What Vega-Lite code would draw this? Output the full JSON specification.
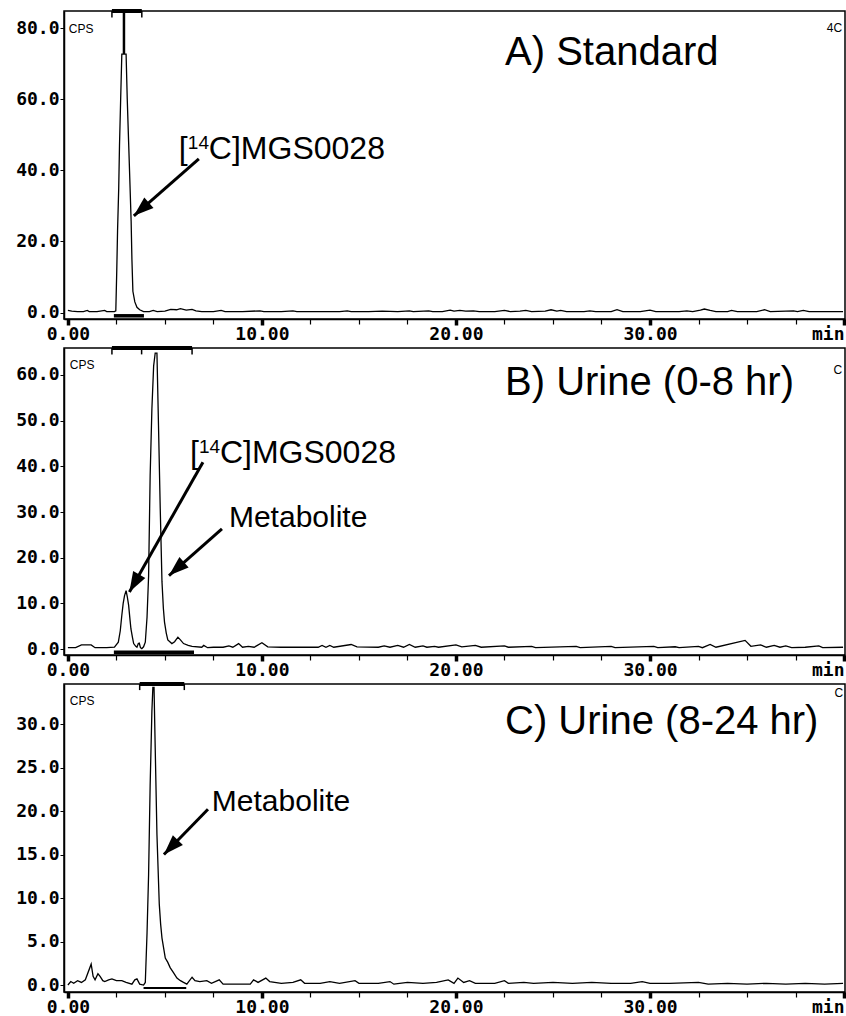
{
  "$schema": "https://vega.github.io/schema/vega-lite/v6.json",
  "background": "white",
  "padding": {"left": 14, "top": 8, "right": 2, "bottom": 2},
  "bounds": "flush",
  "spacing": 29,
  "config": {
    "view": {"stroke": "black", "strokeWidth": 1.5},
    "axis": {"domainColor": "black", "domainWidth": 1.5, "tickColor": "black", "labelColor": "black", "labelFont": "DejaVu Sans Mono", "labelFontSize": 18, "labelFontWeight": "bold", "grid": false, "title": null},
    "text": {"color": "black", "font": "Liberation Sans"}
  },
  "datasets": {
    "traceA": [
      {"t":0.0,"cps":0.6},{"t":0.2,"cps":0.4},{"t":0.5,"cps":0.3},{"t":0.8,"cps":0.3},{"t":1.0,"cps":0.6},{"t":1.1,"cps":0.3},{"t":1.5,"cps":0.3},{"t":1.9,"cps":0.6},{"t":2.0,"cps":0.3},{"t":2.4,"cps":0.3},
      {"t":2.47,"cps":0.5},{"t":2.52,"cps":12},{"t":2.56,"cps":23},{"t":2.62,"cps":35},{"t":2.66,"cps":47},{"t":2.72,"cps":60},{"t":2.78,"cps":72.7},{"t":3.0,"cps":72.7},{"t":3.06,"cps":60},{"t":3.13,"cps":48},
      {"t":3.2,"cps":36},{"t":3.26,"cps":25.7},{"t":3.3,"cps":15},{"t":3.35,"cps":6},{"t":3.45,"cps":3},{"t":3.56,"cps":1.5},{"t":3.7,"cps":0.8},{"t":3.9,"cps":0.3},{"t":4.2,"cps":0.3},{"t":4.4,"cps":0.6},
      {"t":4.6,"cps":0.3},{"t":5.0,"cps":0.4},{"t":5.3,"cps":0.9},{"t":5.6,"cps":0.8},{"t":5.8,"cps":1.1},{"t":6.1,"cps":0.7},{"t":6.4,"cps":0.9},{"t":6.6,"cps":0.5},{"t":6.9,"cps":0.3},{"t":7.5,"cps":0.3},
      {"t":7.9,"cps":0.6},{"t":8.1,"cps":0.3},{"t":9.0,"cps":0.3},{"t":9.9,"cps":0.5},{"t":10.1,"cps":0.3},{"t":11.0,"cps":0.3},{"t":11.6,"cps":0.5},{"t":11.8,"cps":0.3},{"t":12.6,"cps":0.3},{"t":13.4,"cps":0.3},
      {"t":14.0,"cps":0.3},{"t":14.4,"cps":0.5},{"t":14.6,"cps":0.3},{"t":15.5,"cps":0.3},{"t":16.2,"cps":0.4},{"t":17.0,"cps":0.3},{"t":17.6,"cps":0.5},{"t":17.8,"cps":0.3},{"t":18.6,"cps":0.5},{"t":18.8,"cps":0.3},
      {"t":19.3,"cps":0.3},{"t":19.7,"cps":0.7},{"t":19.9,"cps":0.4},{"t":20.2,"cps":0.6},{"t":20.5,"cps":0.4},{"t":20.9,"cps":0.5},{"t":21.2,"cps":0.3},{"t":22.0,"cps":0.3},{"t":22.5,"cps":0.6},{"t":22.8,"cps":0.3},
      {"t":23.3,"cps":0.4},{"t":23.6,"cps":0.6},{"t":23.9,"cps":0.3},{"t":24.6,"cps":0.4},{"t":24.9,"cps":0.8},{"t":25.2,"cps":0.4},{"t":25.4,"cps":0.6},{"t":25.7,"cps":0.3},{"t":26.6,"cps":0.3},{"t":26.9,"cps":0.5},
      {"t":27.2,"cps":0.3},{"t":28.0,"cps":0.3},{"t":28.3,"cps":0.8},{"t":28.6,"cps":0.3},{"t":29.5,"cps":0.3},{"t":30.0,"cps":0.7},{"t":30.3,"cps":0.3},{"t":31.5,"cps":0.3},{"t":31.9,"cps":0.5},{"t":32.2,"cps":0.3},
      {"t":32.6,"cps":0.7},{"t":32.8,"cps":1.0},{"t":33.1,"cps":0.6},{"t":33.4,"cps":0.3},{"t":34.0,"cps":0.3},{"t":34.2,"cps":0.6},{"t":34.5,"cps":0.3},{"t":35.5,"cps":0.3},{"t":35.9,"cps":0.8},{"t":36.2,"cps":0.3},
      {"t":37.4,"cps":0.5},{"t":37.6,"cps":0.3},{"t":37.9,"cps":0.6},{"t":38.2,"cps":0.3},{"t":39.5,"cps":0.3},{"t":39.95,"cps":0.3}
    ],
    "traceB": [
      {"t":0.0,"cps":0.3},{"t":0.4,"cps":0.3},{"t":0.7,"cps":0.9},{"t":1.2,"cps":0.9},{"t":1.4,"cps":0.3},{"t":2.0,"cps":0.3},{"t":2.4,"cps":0.4},{"t":2.6,"cps":1.5},{"t":2.7,"cps":4},{"t":2.78,"cps":7.4},
      {"t":2.85,"cps":10},{"t":2.92,"cps":11.7},{"t":3.0,"cps":12.8},{"t":3.06,"cps":11.5},{"t":3.13,"cps":9.6},{"t":3.2,"cps":6.5},{"t":3.25,"cps":4.4},{"t":3.33,"cps":2.5},{"t":3.39,"cps":1.2},{"t":3.5,"cps":0.6},
      {"t":3.56,"cps":0.4},{"t":3.63,"cps":1.2},{"t":3.68,"cps":1.3},{"t":3.74,"cps":0.3},{"t":3.81,"cps":0.1},{"t":3.9,"cps":0.5},{"t":3.99,"cps":1.5},{"t":4.08,"cps":7},{"t":4.16,"cps":16},{"t":4.24,"cps":38},
      {"t":4.33,"cps":52.6},{"t":4.42,"cps":62},{"t":4.5,"cps":64.8},{"t":4.59,"cps":64.8},{"t":4.67,"cps":49},{"t":4.76,"cps":30.7},{"t":4.85,"cps":14.7},{"t":4.92,"cps":9},{"t":4.98,"cps":5.9},{"t":5.07,"cps":3.5},
      {"t":5.15,"cps":2.0},{"t":5.36,"cps":1.2},{"t":5.5,"cps":1.6},{"t":5.67,"cps":2.6},{"t":5.8,"cps":2.0},{"t":5.96,"cps":1.2},{"t":6.2,"cps":0.8},{"t":6.4,"cps":0.6},{"t":6.9,"cps":0.4},{"t":7.0,"cps":0.8},
      {"t":7.2,"cps":0.3},{"t":7.5,"cps":0.4},{"t":8.0,"cps":0.4},{"t":8.3,"cps":0.7},{"t":8.5,"cps":0.4},{"t":8.8,"cps":1.2},{"t":9.0,"cps":0.4},{"t":9.3,"cps":0.6},{"t":9.6,"cps":0.4},{"t":10.0,"cps":1.4},
      {"t":10.3,"cps":0.5},{"t":11.0,"cps":0.4},{"t":12.9,"cps":0.4},{"t":13.1,"cps":0.8},{"t":13.3,"cps":0.4},{"t":13.5,"cps":0.8},{"t":13.7,"cps":0.4},{"t":14.6,"cps":1.0},{"t":14.9,"cps":0.5},{"t":16.0,"cps":0.4},
      {"t":16.3,"cps":0.7},{"t":16.6,"cps":0.4},{"t":17.0,"cps":0.8},{"t":17.3,"cps":0.4},{"t":17.6,"cps":1.0},{"t":17.9,"cps":0.4},{"t":18.3,"cps":0.7},{"t":18.5,"cps":0.4},{"t":18.9,"cps":0.6},{"t":19.1,"cps":0.4},
      {"t":20.0,"cps":0.9},{"t":20.3,"cps":0.5},{"t":21.0,"cps":0.8},{"t":21.3,"cps":0.4},{"t":22.5,"cps":0.7},{"t":22.7,"cps":0.4},{"t":23.9,"cps":0.6},{"t":24.1,"cps":0.3},{"t":26.2,"cps":0.6},{"t":26.4,"cps":0.3},
      {"t":28.0,"cps":0.6},{"t":28.2,"cps":0.3},{"t":30.2,"cps":0.6},{"t":30.4,"cps":0.3},{"t":31.3,"cps":0.5},{"t":31.5,"cps":0.3},{"t":32.5,"cps":0.6},{"t":32.7,"cps":0.3},{"t":33.1,"cps":1.0},{"t":33.4,"cps":0.4},
      {"t":34.9,"cps":1.9},{"t":35.2,"cps":0.6},{"t":35.7,"cps":0.9},{"t":36.0,"cps":0.4},{"t":36.4,"cps":0.8},{"t":36.7,"cps":0.4},{"t":37.0,"cps":0.7},{"t":37.3,"cps":0.3},{"t":38.0,"cps":0.4},{"t":38.7,"cps":0.7},
      {"t":38.9,"cps":0.3},{"t":39.95,"cps":0.4}
    ],
    "traceC": [
      {"t":0.0,"cps":0.0},{"t":0.15,"cps":0.4},{"t":0.3,"cps":0.2},{"t":0.5,"cps":0.5},{"t":0.7,"cps":0.3},{"t":0.9,"cps":0.6},{"t":1.2,"cps":2.4},{"t":1.3,"cps":1.0},{"t":1.4,"cps":0.6},{"t":1.55,"cps":1.3},
      {"t":1.66,"cps":1.0},{"t":1.8,"cps":0.5},{"t":1.9,"cps":0.4},{"t":2.1,"cps":0.6},{"t":2.27,"cps":0.7},{"t":2.5,"cps":0.5},{"t":2.78,"cps":0.5},{"t":3.0,"cps":0.3},{"t":3.3,"cps":0.1},{"t":3.45,"cps":0.6},
      {"t":3.56,"cps":0.7},{"t":3.7,"cps":0.1},{"t":3.9,"cps":0.0},{"t":3.99,"cps":0.3},{"t":4.08,"cps":6},{"t":4.16,"cps":12.7},{"t":4.24,"cps":23},{"t":4.33,"cps":31.5},{"t":4.38,"cps":34.2},{"t":4.44,"cps":34.2},
      {"t":4.5,"cps":27.3},{"t":4.59,"cps":17.3},{"t":4.71,"cps":9.3},{"t":4.78,"cps":7},{"t":4.85,"cps":5.4},{"t":5.02,"cps":3.1},{"t":5.15,"cps":2.6},{"t":5.27,"cps":2.0},{"t":5.45,"cps":1.4},{"t":5.62,"cps":0.8},
      {"t":5.8,"cps":0.5},{"t":5.96,"cps":0.3},{"t":6.13,"cps":0.1},{"t":6.4,"cps":0.9},{"t":6.55,"cps":0.5},{"t":6.8,"cps":0.4},{"t":7.16,"cps":0.5},{"t":7.4,"cps":0.2},{"t":7.8,"cps":0.6},{"t":8.0,"cps":0.1},
      {"t":9.4,"cps":0.1},{"t":9.57,"cps":0.6},{"t":9.8,"cps":0.3},{"t":10.2,"cps":0.8},{"t":10.4,"cps":0.4},{"t":11.0,"cps":0.2},{"t":11.6,"cps":0.3},{"t":12.0,"cps":0.6},{"t":12.2,"cps":0.2},{"t":13.0,"cps":0.2},
      {"t":13.5,"cps":0.4},{"t":14.0,"cps":0.2},{"t":14.8,"cps":0.5},{"t":15.0,"cps":0.2},{"t":16.0,"cps":0.2},{"t":16.6,"cps":0.4},{"t":16.8,"cps":0.1},{"t":17.5,"cps":0.3},{"t":18.3,"cps":0.2},{"t":19.0,"cps":0.3},
      {"t":19.6,"cps":0.6},{"t":19.9,"cps":0.2},{"t":20.1,"cps":0.8},{"t":20.4,"cps":0.3},{"t":20.7,"cps":0.5},{"t":21.0,"cps":0.2},{"t":22.0,"cps":0.2},{"t":22.5,"cps":0.5},{"t":22.7,"cps":0.2},{"t":23.5,"cps":0.3},
      {"t":24.0,"cps":0.2},{"t":25.0,"cps":0.3},{"t":26.0,"cps":0.2},{"t":27.0,"cps":0.3},{"t":28.0,"cps":0.2},{"t":29.0,"cps":0.2},{"t":29.6,"cps":0.4},{"t":30.0,"cps":0.2},{"t":31.0,"cps":0.2},{"t":32.5,"cps":0.3},
      {"t":33.0,"cps":0.1},{"t":34.0,"cps":0.2},{"t":35.0,"cps":0.1},{"t":36.0,"cps":0.2},{"t":37.0,"cps":0.1},{"t":38.0,"cps":0.2},{"t":39.0,"cps":0.1},{"t":39.95,"cps":0.2}
    ]
  },
  "vconcat": [
    {
      "width": 781, "height": 308,
      "layer": [
        {"data": {"name": "traceA"}, "mark": {"type": "line", "color": "black", "strokeWidth": 1.3, "clip": true},
          "encoding": {
            "x": {"field": "t", "type": "quantitative", "scale": {"domain": [-0.2, 40.05], "nice": false, "zero": false},
              "axis": {"values": [0,2.5,5,7.5,10,12.5,15,17.5,20,22.5,25,27.5,30,32.5,35,37.5,40],
                "labelExpr": "datum.value % 10 === 0 ? (datum.value === 40 ? 'min' : format(datum.value, '.2f')) : ''",
                "labelAlign": {"condition": {"test": "datum.value === 40", "value": "right"}, "value": "center"},
                "tickSize": {"condition": {"test": "datum.value % 10 === 0", "value": 6}, "value": 5},
                "tickWidth": {"condition": {"test": "datum.value % 10 === 0", "value": 3.5}, "value": 1.2},
                "labelOverlap": false, "labelFlush": false, "labelPadding": 0, "labelBaseline": "top"}},
            "y": {"field": "cps", "type": "quantitative", "scale": {"domain": [-1.8, 84.8], "nice": false, "zero": false},
              "axis": {"values": [0, 20, 40, 60, 80], "format": ".1f", "tickSize": 4, "labelPadding": 1}}
          }},
        {"data": {"values": [{"start": 2.27, "end": 3.81}]}, "mark": {"type": "rule", "color": "black", "strokeWidth": 4},
          "encoding": {"x": {"field": "start", "type": "quantitative"}, "x2": {"field": "end"}, "y": {"datum": 84.8, "type": "quantitative"}}},
        {"data": {"values": [{"at": 2.27}, {"at": 3.81}]}, "mark": {"type": "rule", "color": "black", "strokeWidth": 1.5},
          "encoding": {"x": {"field": "at", "type": "quantitative"}, "y": {"datum": 84.8, "type": "quantitative"}, "y2": {"datum": 83.0}}},
        {"data": {"values": [{"t": 2.89, "cps": 72.7}]}, "mark": {"type": "rule", "color": "black", "strokeWidth": 2.5},
          "encoding": {"x": {"field": "t", "type": "quantitative"}, "y": {"field": "cps", "type": "quantitative"}, "y2": {"datum": 84.8}}},
        {"data": {"values": [{"start": 2.37, "end": 3.92}]}, "mark": {"type": "rule", "color": "black", "strokeWidth": 3.5},
          "encoding": {"x": {"field": "start", "type": "quantitative"}, "x2": {"field": "end"}, "y": {"datum": -0.9, "type": "quantitative"}}},
        {"data": {"values": [{"t": 22.53, "cps": 69.6, "label": "A) Standard"}]}, "mark": {"type": "text", "fontSize": 40, "align": "left", "baseline": "alphabetic"},
          "encoding": {"x": {"field": "t", "type": "quantitative"}, "y": {"field": "cps", "type": "quantitative"}, "text": {"field": "label"}}},
        {"data": {"values": [{"t": 5.72, "cps": 43.2, "label": "["}]}, "mark": {"type": "text", "fontSize": 32, "align": "left", "baseline": "alphabetic"},
          "encoding": {"x": {"field": "t", "type": "quantitative"}, "y": {"field": "cps", "type": "quantitative"}, "text": {"field": "label"}}},
        {"data": {"values": [{"t": 5.72, "cps": 43.2, "label": "14"}]}, "mark": {"type": "text", "fontSize": 19, "align": "left", "baseline": "alphabetic", "dx": 9, "dy": -10},
          "encoding": {"x": {"field": "t", "type": "quantitative"}, "y": {"field": "cps", "type": "quantitative"}, "text": {"field": "label"}}},
        {"data": {"values": [{"t": 5.72, "cps": 43.2, "label": "C]MGS0028"}]}, "mark": {"type": "text", "fontSize": 32, "align": "left", "baseline": "alphabetic", "dx": 30},
          "encoding": {"x": {"field": "t", "type": "quantitative"}, "y": {"field": "cps", "type": "quantitative"}, "text": {"field": "label"}}},
        {"data": {"values": [{"t": 0.05, "cps": 81.1, "label": "CPS"}]}, "mark": {"type": "text", "fontSize": 12, "align": "left", "baseline": "top"},
          "encoding": {"x": {"field": "t", "type": "quantitative"}, "y": {"field": "cps", "type": "quantitative"}, "text": {"field": "label"}}},
        {"data": {"values": [{"t": 39.9, "cps": 81.4, "label": "4C"}]}, "mark": {"type": "text", "fontSize": 12, "align": "right", "baseline": "top"},
          "encoding": {"x": {"field": "t", "type": "quantitative"}, "y": {"field": "cps", "type": "quantitative"}, "text": {"field": "label"}}},
        {"data": {"values": [{"t": 6.75, "cps": 43.2, "t2": 3.4, "cps2": 27.2}]}, "mark": {"type": "rule", "color": "black", "strokeWidth": 3},
          "encoding": {"x": {"field": "t", "type": "quantitative"}, "y": {"field": "cps", "type": "quantitative"}, "x2": {"field": "t2"}, "y2": {"field": "cps2"}}},
        {"data": {"values": [{"t2": 3.4, "cps2": 27.2}]}, "mark": {"type": "point", "shape": "M0,0L-0.35,1L0.35,1Z", "size": 1600, "angle": 228.8, "filled": true, "color": "black", "opacity": 1, "strokeWidth": 0},
          "encoding": {"x": {"field": "t2", "type": "quantitative"}, "y": {"field": "cps2", "type": "quantitative"}}}
      ]
    },
    {
      "width": 781, "height": 307,
      "layer": [
        {"data": {"name": "traceB"}, "mark": {"type": "line", "color": "black", "strokeWidth": 1.3, "clip": true},
          "encoding": {
            "x": {"field": "t", "type": "quantitative", "scale": {"domain": [-0.2, 40.05], "nice": false, "zero": false},
              "axis": {"values": [0,2.5,5,7.5,10,12.5,15,17.5,20,22.5,25,27.5,30,32.5,35,37.5,40],
                "labelExpr": "datum.value % 10 === 0 ? (datum.value === 40 ? 'min' : format(datum.value, '.2f')) : ''",
                "labelAlign": {"condition": {"test": "datum.value === 40", "value": "right"}, "value": "center"},
                "tickSize": {"condition": {"test": "datum.value % 10 === 0", "value": 6}, "value": 5},
                "tickWidth": {"condition": {"test": "datum.value % 10 === 0", "value": 3.5}, "value": 1.2},
                "labelOverlap": false, "labelFlush": false, "labelPadding": 0, "labelBaseline": "top"}},
            "y": {"field": "cps", "type": "quantitative", "scale": {"domain": [-1.3, 65.9], "nice": false, "zero": false},
              "axis": {"values": [0, 10, 20, 30, 40, 50, 60], "format": ".1f", "tickSize": 4, "labelPadding": 1}}
          }},
        {"data": {"values": [{"start": 2.27, "end": 6.4}]}, "mark": {"type": "rule", "color": "black", "strokeWidth": 4},
          "encoding": {"x": {"field": "start", "type": "quantitative"}, "x2": {"field": "end"}, "y": {"datum": 65.9, "type": "quantitative"}}},
        {"data": {"values": [{"at": 2.27}, {"at": 3.8}, {"at": 6.4}]}, "mark": {"type": "rule", "color": "black", "strokeWidth": 1.5},
          "encoding": {"x": {"field": "at", "type": "quantitative"}, "y": {"datum": 65.9, "type": "quantitative"}, "y2": {"datum": 64.5}}},
        {"data": {"values": [{"start": 2.37, "end": 6.5}]}, "mark": {"type": "rule", "color": "black", "strokeWidth": 3.5},
          "encoding": {"x": {"field": "start", "type": "quantitative"}, "x2": {"field": "end"}, "y": {"datum": -0.7, "type": "quantitative"}}},
        {"data": {"values": [{"t": 22.53, "cps": 55.6, "label": "B) Urine (0-8 hr)"}]}, "mark": {"type": "text", "fontSize": 40, "align": "left", "baseline": "alphabetic"},
          "encoding": {"x": {"field": "t", "type": "quantitative"}, "y": {"field": "cps", "type": "quantitative"}, "text": {"field": "label"}}},
        {"data": {"values": [{"t": 6.29, "cps": 40.7, "label": "["}]}, "mark": {"type": "text", "fontSize": 32, "align": "left", "baseline": "alphabetic"},
          "encoding": {"x": {"field": "t", "type": "quantitative"}, "y": {"field": "cps", "type": "quantitative"}, "text": {"field": "label"}}},
        {"data": {"values": [{"t": 8.3, "cps": 26.7, "label": "Metabolite"}]}, "mark": {"type": "text", "fontSize": 30, "align": "left", "baseline": "alphabetic"},
          "encoding": {"x": {"field": "t", "type": "quantitative"}, "y": {"field": "cps", "type": "quantitative"}, "text": {"field": "label"}}},
        {"data": {"values": [{"t": 6.29, "cps": 40.7, "label": "14"}]}, "mark": {"type": "text", "fontSize": 19, "align": "left", "baseline": "alphabetic", "dx": 9, "dy": -10},
          "encoding": {"x": {"field": "t", "type": "quantitative"}, "y": {"field": "cps", "type": "quantitative"}, "text": {"field": "label"}}},
        {"data": {"values": [{"t": 6.29, "cps": 40.7, "label": "C]MGS0028"}]}, "mark": {"type": "text", "fontSize": 32, "align": "left", "baseline": "alphabetic", "dx": 30},
          "encoding": {"x": {"field": "t", "type": "quantitative"}, "y": {"field": "cps", "type": "quantitative"}, "text": {"field": "label"}}},
        {"data": {"values": [{"t": 0.1, "cps": 63.3, "label": "CPS"}]}, "mark": {"type": "text", "fontSize": 12, "align": "left", "baseline": "top"},
          "encoding": {"x": {"field": "t", "type": "quantitative"}, "y": {"field": "cps", "type": "quantitative"}, "text": {"field": "label"}}},
        {"data": {"values": [{"t": 39.9, "cps": 62.2, "label": "C"}]}, "mark": {"type": "text", "fontSize": 12, "align": "right", "baseline": "top"},
          "encoding": {"x": {"field": "t", "type": "quantitative"}, "y": {"field": "cps", "type": "quantitative"}, "text": {"field": "label"}}},
        {"data": {"values": [{"t": 6.96, "cps": 40.9, "t2": 3.17, "cps2": 12.5}, {"t": 7.94, "cps": 26.3, "t2": 5.21, "cps2": 16.1}]}, "mark": {"type": "rule", "color": "black", "strokeWidth": 3},
          "encoding": {"x": {"field": "t", "type": "quantitative"}, "y": {"field": "cps", "type": "quantitative"}, "x2": {"field": "t2"}, "y2": {"field": "cps2"}}},
        {"data": {"values": [{"t2": 3.17, "cps2": 12.5}]}, "mark": {"type": "point", "shape": "M0,0L-0.35,1L0.35,1Z", "size": 1600, "angle": 209.5, "filled": true, "color": "black", "opacity": 1, "strokeWidth": 0},
          "encoding": {"x": {"field": "t2", "type": "quantitative"}, "y": {"field": "cps2", "type": "quantitative"}}},
        {"data": {"values": [{"t2": 5.21, "cps2": 16.1}]}, "mark": {"type": "point", "shape": "M0,0L-0.35,1L0.35,1Z", "size": 1600, "angle": 228.8, "filled": true, "color": "black", "opacity": 1, "strokeWidth": 0},
          "encoding": {"x": {"field": "t2", "type": "quantitative"}, "y": {"field": "cps2", "type": "quantitative"}}}
      ]
    },
    {
      "width": 781, "height": 308,
      "layer": [
        {"data": {"name": "traceC"}, "mark": {"type": "line", "color": "black", "strokeWidth": 1.3, "clip": true},
          "encoding": {
            "x": {"field": "t", "type": "quantitative", "scale": {"domain": [-0.2, 40.05], "nice": false, "zero": false},
              "axis": {"values": [0,2.5,5,7.5,10,12.5,15,17.5,20,22.5,25,27.5,30,32.5,35,37.5,40],
                "labelExpr": "datum.value % 10 === 0 ? (datum.value === 40 ? 'min' : format(datum.value, '.2f')) : ''",
                "labelAlign": {"condition": {"test": "datum.value === 40", "value": "right"}, "value": "center"},
                "tickSize": {"condition": {"test": "datum.value % 10 === 0", "value": 6}, "value": 5},
                "tickWidth": {"condition": {"test": "datum.value % 10 === 0", "value": 3.5}, "value": 1.2},
                "labelOverlap": false, "labelFlush": false, "labelPadding": 0, "labelBaseline": "top"}},
            "y": {"field": "cps", "type": "quantitative", "scale": {"domain": [-0.8, 34.6], "nice": false, "zero": false},
              "axis": {"values": [0, 5, 10, 15, 20, 25, 30], "format": ".1f", "tickSize": 4, "labelPadding": 1}}
          }},
        {"data": {"values": [{"start": 3.7, "end": 6.0}]}, "mark": {"type": "rule", "color": "black", "strokeWidth": 4},
          "encoding": {"x": {"field": "start", "type": "quantitative"}, "x2": {"field": "end"}, "y": {"datum": 34.6, "type": "quantitative"}}},
        {"data": {"values": [{"at": 3.7}, {"at": 6.0}]}, "mark": {"type": "rule", "color": "black", "strokeWidth": 1.5},
          "encoding": {"x": {"field": "at", "type": "quantitative"}, "y": {"datum": 34.6, "type": "quantitative"}, "y2": {"datum": 33.9}}},
        {"data": {"values": [{"start": 3.9, "end": 6.1}]}, "mark": {"type": "rule", "color": "black", "strokeWidth": 2},
          "encoding": {"x": {"field": "start", "type": "quantitative"}, "x2": {"field": "end"}, "y": {"datum": -0.35, "type": "quantitative"}}},
        {"data": {"values": [{"t": 22.53, "cps": 28.9, "label": "C) Urine (8-24 hr)"}]}, "mark": {"type": "text", "fontSize": 40, "align": "left", "baseline": "alphabetic"},
          "encoding": {"x": {"field": "t", "type": "quantitative"}, "y": {"field": "cps", "type": "quantitative"}, "text": {"field": "label"}}},
        {"data": {"values": [{"t": 7.42, "cps": 20.0, "label": "Metabolite"}]}, "mark": {"type": "text", "fontSize": 30, "align": "left", "baseline": "alphabetic"},
          "encoding": {"x": {"field": "t", "type": "quantitative"}, "y": {"field": "cps", "type": "quantitative"}, "text": {"field": "label"}}},
        {"data": {"values": [{"t": 0.1, "cps": 33.2, "label": "CPS"}]}, "mark": {"type": "text", "fontSize": 12, "align": "left", "baseline": "top"},
          "encoding": {"x": {"field": "t", "type": "quantitative"}, "y": {"field": "cps", "type": "quantitative"}, "text": {"field": "label"}}},
        {"data": {"values": [{"t": 39.95, "cps": 34.1, "label": "C"}]}, "mark": {"type": "text", "fontSize": 12, "align": "right", "baseline": "top"},
          "encoding": {"x": {"field": "t", "type": "quantitative"}, "y": {"field": "cps", "type": "quantitative"}, "text": {"field": "label"}}},
        {"data": {"values": [{"t": 7.22, "cps": 20.2, "t2": 4.95, "cps2": 15.0}]}, "mark": {"type": "rule", "color": "black", "strokeWidth": 3},
          "encoding": {"x": {"field": "t", "type": "quantitative"}, "y": {"field": "cps", "type": "quantitative"}, "x2": {"field": "t2"}, "y2": {"field": "cps2"}}},
        {"data": {"values": [{"t2": 4.95, "cps2": 15.0}]}, "mark": {"type": "point", "shape": "M0,0L-0.35,1L0.35,1Z", "size": 1600, "angle": 224.2, "filled": true, "color": "black", "opacity": 1, "strokeWidth": 0},
          "encoding": {"x": {"field": "t2", "type": "quantitative"}, "y": {"field": "cps2", "type": "quantitative"}}}
      ]
    }
  ]
}
